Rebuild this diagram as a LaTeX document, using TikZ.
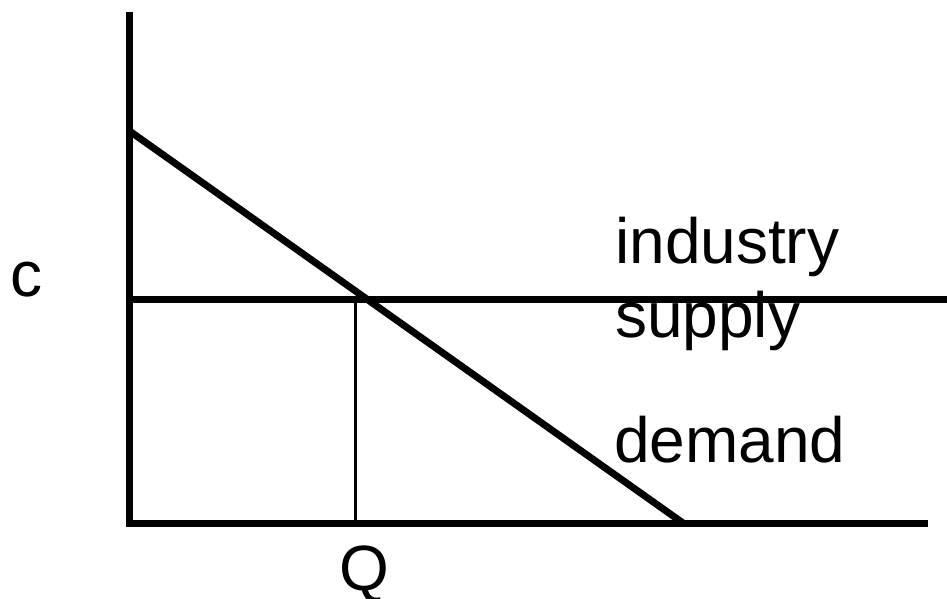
\documentclass[tikz,border=0pt]{standalone}
\usepackage{fontspec}
\setmainfont{Liberation Sans}
\begin{document}
\begin{tikzpicture}[x=1pt,y=-1pt,
  axis/.style={line width=7pt,black},
  curve/.style={line width=7pt,black},
  guide/.style={line width=2.6pt,black},
  lbl/.style={anchor=base west,inner sep=0pt,font=\fontsize{64}{76}\selectfont}]
\useasboundingbox (0,0) rectangle (947,598);
% coordinates
\coordinate (Ytop) at (129.5,12);
\coordinate (Ybot) at (129.5,526.5);
\coordinate (Xl) at (126,523);
\coordinate (Xr) at (928,523);
\coordinate (D1) at (129.5,131);
\coordinate (D2) at (683,523);
\coordinate (S1) at (129.5,299);
\coordinate (S2) at (947,299);
\coordinate (Qt) at (355.3,299);
\coordinate (Qb) at (355.3,523);
% axes
\draw[axis] (Ytop) -- (Ybot);
\draw[axis] (Xl) -- (Xr);
% supply and demand
\draw[curve] (S1) -- (S2);
\draw[curve] (D1) -- (D2);
\draw[guide] (Qt) -- (Qb);
% labels
\node[lbl] (c) at (10,296.5) {c};
\node[lbl] (q) at (339,590) {Q};
\node[lbl] (ind) at (615,263) {industry};
\node[lbl] (sup) at (615,337) {supply};
\node[lbl] (dem) at (614,462) {demand};
\end{tikzpicture}
\end{document}
